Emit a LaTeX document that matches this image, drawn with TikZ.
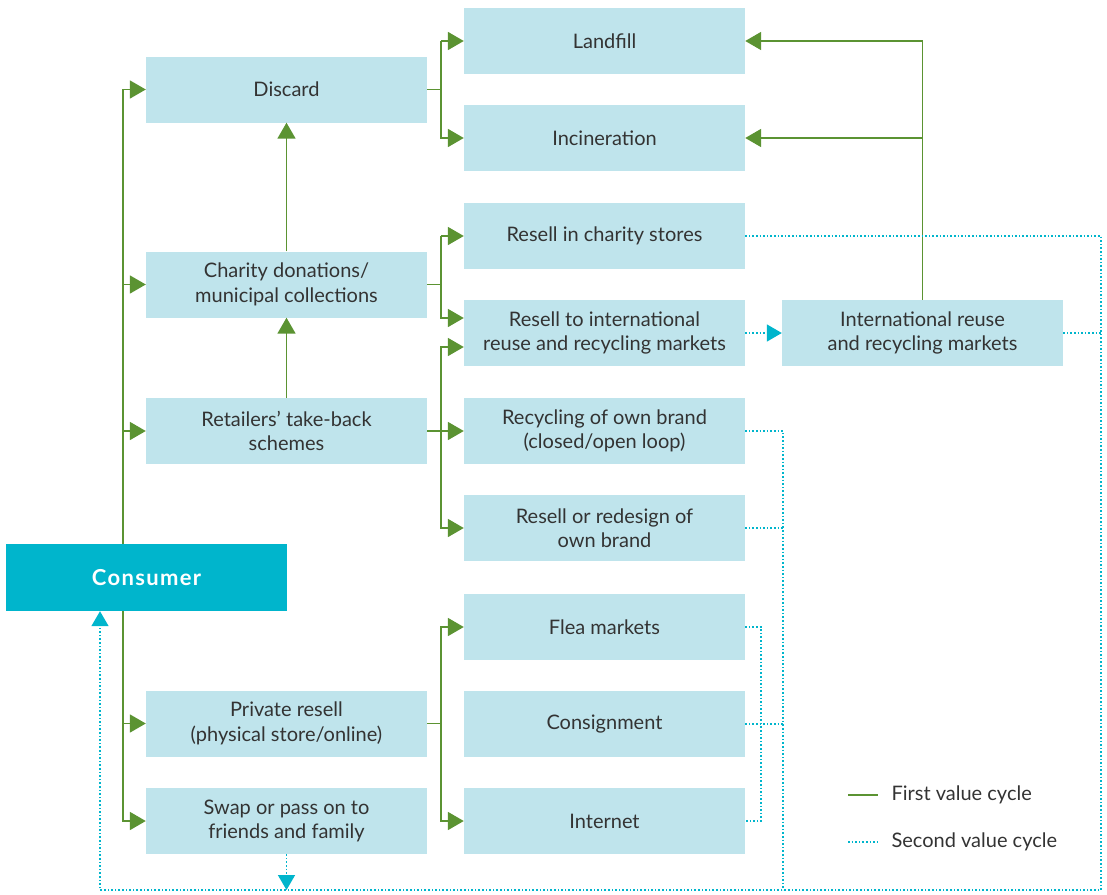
\documentclass[tikz,border=0pt]{standalone}
\usepackage{fontspec}
\setmainfont{Lato}
\newfontfamily\consfont[LetterSpace=6]{Lato}
\usetikzlibrary{arrows.meta}
\definecolor{gr}{HTML}{5B9332}
\definecolor{tl}{HTML}{00B5CC}
\definecolor{bx}{HTML}{BFE4EC}
\definecolor{tx}{HTML}{333333}
\tikzset{
  box/.style={fill=bx, minimum width=281pt, minimum height=66pt, inner sep=0pt, align=center, text=tx, font=\fontsize{20}{24.5}\selectfont},
  cons/.style={fill=tl, minimum width=281pt, minimum height=67pt, inner sep=0pt, text=white, font=\fontsize{22}{24}\consfont\bfseries},
  gline/.style={draw=gr, line width=1.8pt},
  garr/.style={gline, -{Triangle[length=16pt,width=18pt]}},
  dline/.style={draw=tl, line width=1.6pt, dash pattern=on 1.6pt off 2pt},
  darr/.style={dline, -{Triangle[length=15pt,width=17pt,fill=tl]}},
  legtext/.style={anchor=west, text=tx, font=\fontsize{20}{24}\selectfont}
}
\begin{document}
\begin{tikzpicture}[x=1pt,y=-1pt]
\useasboundingbox (0,0) rectangle (1107,894);
% left column
\node[box] (discard) at (286.5,89.5) {Discard};
\node[box] (charity) at (286.5,284.5) {Charity donations/\\municipal collections};
\node[box] (retail) at (286.5,431) {Retailers' take-back\\schemes};
\node[cons] (consumer) at (146.5,577.5) {Consumer};
\node[box] (private) at (286.5,723.5) {Private resell\\(physical store/online)};
\node[box] (swap) at (286.5,821) {Swap or pass on to\\friends and family};
% middle column
\node[box] (landfill) at (604.5,41) {Landfill};
\node[box] (incin) at (604.5,138) {Incineration};
\node[box] (charstore) at (604.5,236) {Resell in charity stores};
\node[box] (intl1) at (604.5,333) {Resell to international\\reuse and recycling markets};
\node[box] (ownbrand) at (604.5,431) {Recycling of own brand\\(closed/open loop)};
\node[box] (redesign) at (604.5,528) {Resell or redesign of\\own brand};
\node[box] (flea) at (604.5,627) {Flea markets};
\node[box] (consign) at (604.5,724) {Consignment};
\node[box] (internet) at (604.5,821) {Internet};
% right
\node[box] (intl2) at (922.5,333) {International reuse\\and recycling markets};

% coordinates
\coordinate (tk) at (123,0);
\coordinate (jx) at (441,0);
\coordinate (rr) at (1101,890);
\coordinate (rl) at (100,890);
\coordinate (r2) at (783,890);
\coordinate (r3) at (761,0);

% green trunk from consumer
\draw[garr] (tk |- consumer.north) |- (discard.west);
\draw[garr] (tk |- charity.west) -- (charity.west);
\draw[garr] (tk |- retail.west) -- (retail.west);
\draw[garr] (tk |- consumer.south) |- (swap.west);
\draw[garr] (tk |- private.west) -- (private.west);

% vertical up arrows
\draw[garr] (charity.north) -- (discard.south);
\draw[garr] (retail.north) -- (charity.south);

% discard branches
\draw[gline] (discard.east) -- (jx |- discard.east);
\draw[garr] (jx |- landfill.west) |- (landfill.west);
\draw[garr] (jx |- landfill.west) |- (incin.west);

% charity branches
\draw[gline] (charity.east) -- (jx |- charity.east);
\draw[garr] (jx |- charstore.west) -- (charstore.west);
\draw[garr] (jx |- charstore.west) |- ([yshift=15pt]intl1.west);

% retailer branches
\draw[gline] (retail.east) -- (jx |- retail.east);
\draw[garr] (jx |- redesign.west) |- ([yshift=-14pt]intl1.west);
\draw[garr] (jx |- ownbrand.west) -- (ownbrand.west);
\draw[garr] (jx |- ownbrand.west) |- (redesign.west);

% private branches
\draw[gline] (private.east) -- (jx |- private.east);
\draw[garr] (jx |- internet.west) |- (flea.west);
\draw[garr] (jx |- flea.west) |- (internet.west);

% international reuse to landfill/incineration
\draw[garr] (intl2.north) |- (landfill.east);
\draw[garr] (intl2.north |- incin.east) -- (incin.east);

% second value cycle
\draw[darr] (intl1.east) -- (intl2.west);
\draw[darr] (charstore.east) -| (rr) -- (rl) -- (rl |- consumer.south);
\draw[dline] (intl2.east) -- (intl2.east -| rr);
\draw[dline] (ownbrand.east) -| (r2);
\draw[dline] (redesign.east) -- (redesign.east -| r2);
\draw[dline] (consign.east) -- (consign.east -| r2);
\draw[dline] (flea.east) -| (r3 |- internet.east) -- (internet.east);
\draw[darr] (swap.south) -- (swap.south |- rl);

% legend
\coordinate (la) at (848,795);
\coordinate (lb) at (848,842);
\node[legtext] (leg1) at (888,795) {First value cycle};
\node[legtext] (leg2) at (888,842) {Second value cycle};
\draw[gline] (la) -- ++(30,0);
\draw[dline] (lb) -- ++(30,0);
\end{tikzpicture}
\end{document}
